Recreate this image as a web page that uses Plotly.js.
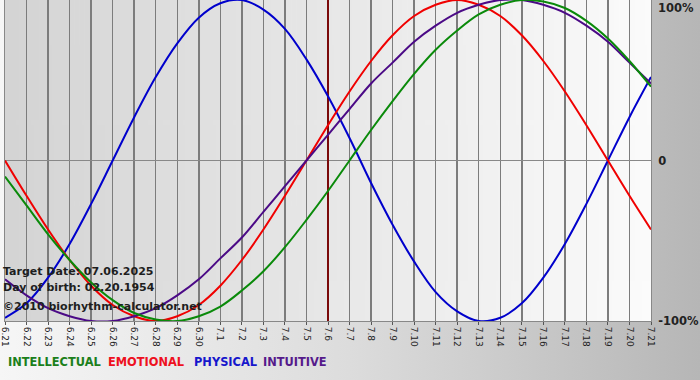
<!DOCTYPE html>
<html>
<head>
<meta charset="utf-8">
<script src="https://cdn.plot.ly/plotly-3.0.1.min.js"></script>
<style>
html,body{margin:0;padding:0;}
#chart{width:700px;height:380px;background:linear-gradient(to right,#f6f6f6 0%,#dcdcdc 50%,#b6b6b6 100%);}
</style>
</head>
<body>
<div id="chart"></div>
<script>
// Day labels (June 21 – July 21)
const days = ['6.21','6.22','6.23','6.24','6.25','6.26','6.27','6.28','6.29','6.30',
  '7.1','7.2','7.3','7.4','7.5','7.6','7.7','7.8','7.9','7.10','7.11','7.12','7.13',
  '7.14','7.15','7.16','7.17','7.18','7.19','7.20','7.21'];

// Cycle values (fraction of 100%)
const physical = [-0.98,-0.89,-0.73,-0.52,-0.27,0.00,0.27,0.52,0.73,0.89,0.98,1.00,0.94,0.82,0.63,0.40,
  0.14,-0.14,-0.40,-0.63,-0.82,-0.94,-1.00,-0.98,-0.89,-0.73,-0.52,-0.27,0.00,0.27,0.52];
const emotional = [0.00,-0.22,-0.43,-0.62,-0.78,-0.90,-0.97,-1.00,-0.97,-0.90,-0.78,-0.62,-0.43,-0.22,0.00,0.22,
  0.43,0.62,0.78,0.90,0.97,1.00,0.97,0.90,0.78,0.62,0.43,0.22,0.00,-0.22,-0.43];
const intellectual = [-0.10,-0.28,-0.46,-0.62,-0.76,-0.87,-0.95,-0.99,-1.00,-0.97,-0.91,-0.81,-0.69,-0.54,-0.37,-0.19,
  0.00,0.19,0.37,0.54,0.69,0.81,0.91,0.97,1.00,0.99,0.95,0.87,0.76,0.62,0.46];
const intuitive = [-0.74,-0.84,-0.92,-0.97,-1.00,-1.00,-0.97,-0.92,-0.84,-0.74,-0.61,-0.48,-0.32,-0.16,0.00,0.16,
  0.32,0.48,0.61,0.74,0.84,0.92,0.97,1.00,1.00,0.97,0.92,0.84,0.74,0.61,0.48];

const targetDay = '7.6';
const yTickVals = [-1, 0];
const yTickText = ['-100%', '0'];
const legendNames = ['INTELLECTUAL','EMOTIONAL','PHYSICAL','INTUITIVE'];
const colors = {INTELLECTUAL:'#0a8a0a', EMOTIONAL:'#f00000', PHYSICAL:'#0000cc', INTUITIVE:'#4b0a86'};
const legendColors = {INTELLECTUAL:'#1b7f1b', EMOTIONAL:'#ee1020', PHYSICAL:'#1616cc', INTUITIVE:'#551a8b'};
const infoLines = ['Target Date: 07.06.2025','Day of birth: 02.20.1954','\u00a92010 biorhythm-calculator.net'];

// gradient image for plot area
function gradientURL(c0, c1){
  const cv = document.createElement('canvas'); cv.width = 256; cv.height = 4;
  const ctx = cv.getContext('2d');
  const g = ctx.createLinearGradient(0,0,256,0);
  g.addColorStop(0,c0); g.addColorStop(1,c1);
  ctx.fillStyle = g; ctx.fillRect(0,0,256,4);
  return cv.toDataURL('image/png');
}

function line(name, y){
  return {x: days, y: y, type:'scatter', mode:'lines', name: name,
    line:{color: colors[name], width:2, shape:'spline', smoothing:1}, hoverinfo:'skip'};
}
const traces = [line('PHYSICAL', physical), line('EMOTIONAL', emotional),
  line('INTUITIVE', intuitive), line('INTELLECTUAL', intellectual)];

const W = 700, mL = 5, mR = 49, mT = 0, mB = 59;
const plotW = W - mL - mR;
const px = v => (v - mL) / plotW;
const legendX = [6, 106, 192, 261];
const targetIdx = days.indexOf(targetDay);

const annotations = [];
infoLines.forEach((t,i)=>{
  annotations.push({xref:'paper', yref:'y', x: px(1), y: [-0.69,-0.79,-0.91][i], xanchor:'left', yanchor:'middle',
    text: t, showarrow:false, font:{family:'DejaVu Sans', size:11, color:'#1e1e1e', weight:'bold'}});
});
legendNames.forEach((n,i)=>{
  annotations.push({xref:'paper', yref:'paper', x: px(legendX[i]), y: -(362-321)/321, xanchor:'left', yanchor:'middle',
    text: n, showarrow:false, font:{family:'DejaVu Sans', size:11.4, color: legendColors[n], weight:'bold'}});
});
annotations.push({xref:'paper', yref:'y', x:1, y:1, xanchor:'left', yanchor:'top', xshift:5, yshift:1,
  text:'100%', showarrow:false, font:{family:'DejaVu Sans', size:11.5, color:'#222', weight:'bold'}});

const layout = {
  width: 700, height: 380,
  margin:{l:mL, r:mR, t:mT, b:mB, pad:0},
  paper_bgcolor:'rgba(0,0,0,0)', plot_bgcolor:'rgba(0,0,0,0)',
  showlegend:false,
  xaxis:{type:'category', range:[0, days.length-1], showgrid:true, gridcolor:'#7c7c7c', gridwidth:1.5,
    tickangle:90, ticks:'outside', ticklen:3, tickcolor:'#555', showline:true, mirror:true, linecolor:'#888', linewidth:1,
    tickfont:{family:'DejaVu Sans', size:9, color:'#222'}, zeroline:false, fixedrange:true},
  yaxis:{range:[-1,1], side:'right', tickvals:yTickVals, ticktext:yTickText, showgrid:false,
    zeroline:true, zerolinecolor:'#888', zerolinewidth:1.5, showline:true, mirror:true, linecolor:'#888', linewidth:1,
    ticks:'', ticklabelstandoff:4,
    tickfont:{family:'DejaVu Sans', size:11.5, color:'#222', weight:'bold'}, fixedrange:true},
  shapes:[{type:'line', xref:'x', yref:'y', x0:targetIdx, x1:targetIdx, y0:-1, y1:1,
    line:{color:'#7a0a0a', width:2}, layer:'between'}],
  images:[{source: gradientURL('#d4d4d4','#fbfbfb'), xref:'paper', yref:'paper', x:0, y:1, sizex:1, sizey:1,
    sizing:'stretch', layer:'below', xanchor:'left', yanchor:'top'}],
  annotations: annotations,
  font:{family:'DejaVu Sans'}
};

Plotly.newPlot('chart', traces, layout, {displayModeBar:false, staticPlot:true});
</script>
</body>
</html>
